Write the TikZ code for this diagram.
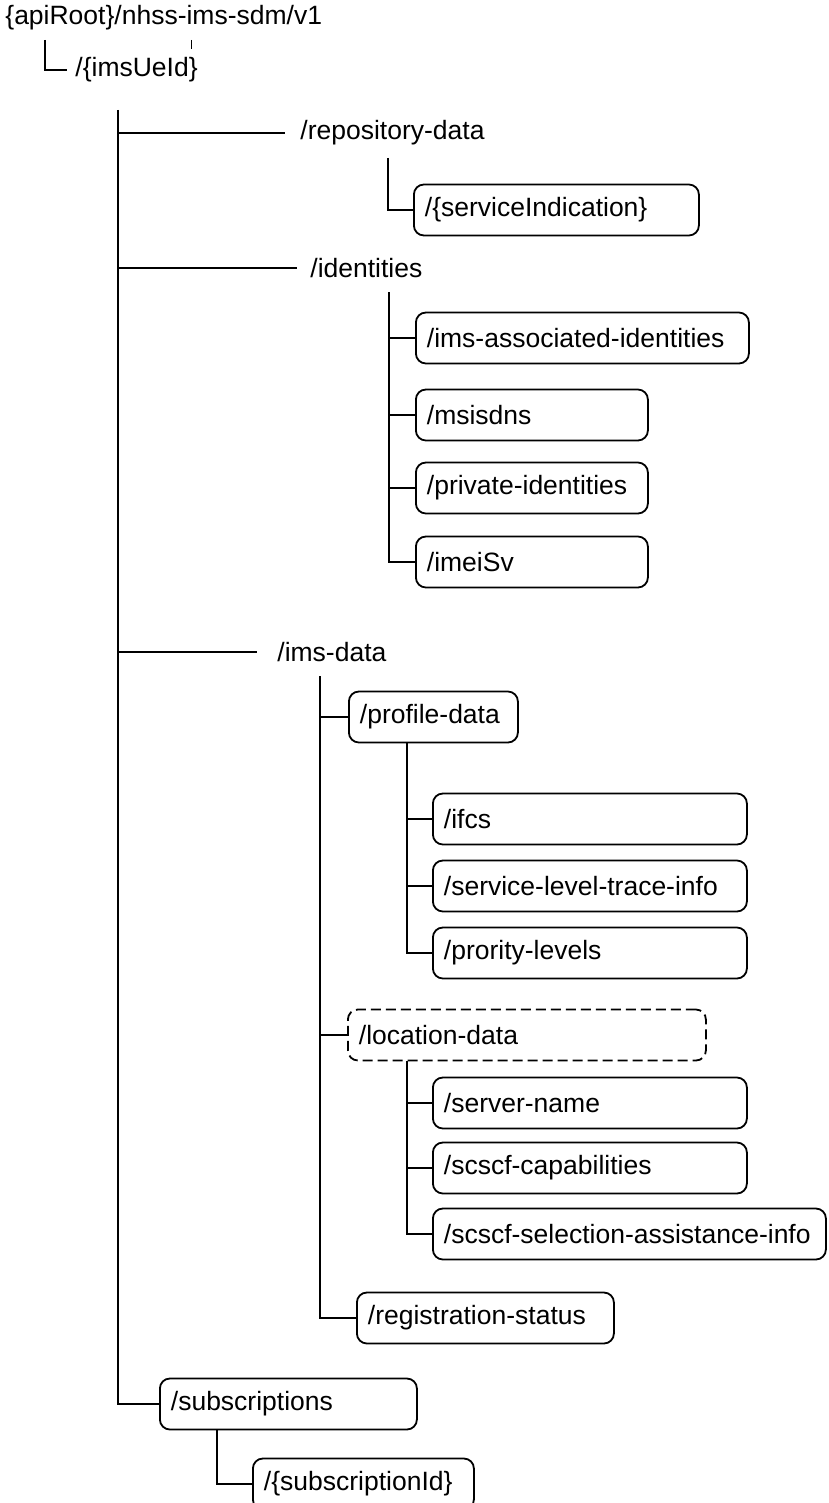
\documentclass[tikz,border=0pt]{standalone}
\usepackage{fontspec}
\setmainfont{Liberation Sans}
\hyphenpenalty=10000
\exhyphenpenalty=10000
\begin{document}
\begin{tikzpicture}[x=0.5pt,y=-0.5pt,
  every node/.style={font=\fontsize{13.25}{16}\selectfont},
  lbl/.style={inner sep=0pt, anchor=west},
  box/.style={draw, line width=0.9pt, rounded corners=5pt, minimum height=25.5pt,
    inner xsep=5.5pt, inner ysep=0pt, text width=#1, align=left, anchor=west},
  dbox/.style={box=#1, dash pattern=on 5pt off 2.5pt},
  conn/.style={line width=0.9pt}
]
\useasboundingbox (0,0) rectangle (829,1503);
\clip (0,0) rectangle (829,1503);

% root
\node[lbl] (root) at (5,18) {\{apiRoot\}/nhss-ims-sdm/v1};
\coordinate (tickA) at (191,40);
\coordinate (tickB) at (191,49);
\draw[line width=0.5pt] (tickA) -- (tickB);

\node[lbl] (ims) at (75,70) {/\{imsUeId\}};
\coordinate (c0) at (45,40);
\draw[conn] (c0) |- ([xshift=-4pt]ims.west);

% main trunk
\coordinate (m0) at (118,110);

\node[lbl] (repo) at (300,133) {/repository-data};
\node[lbl] (ident) at (310,268) {/identities};
\node[lbl] (imsdata) at (277,652) {/ims-data};
\node[box=117.5pt] (subs) at (159,1404) {/subscriptions};

\draw[conn] (m0) |- (subs.west);
\draw[conn] (m0 |- repo.west) -- ([xshift=-7.5pt]repo.west);
\draw[conn] (m0 |- ident.west) -- ([xshift=-6.5pt]ident.west);
\draw[conn] (m0 |- imsdata.west) -- ([xshift=-10pt]imsdata.west);

% repository-data
\node[box=131.5pt] (svc) at (413,210) {/\{serviceIndication\}};
\coordinate (r0) at (388,158);
\draw[conn] (r0) |- (svc.west);

% identities
\node[box=155.5pt] (assoc) at (415,338) {/ims-associated-identities};
\node[box=105pt] (msisdn) at (415,415) {/msisdns};
\node[box=105pt] (priv) at (415,488) {/private-identities};
\node[box=105pt] (imei) at (415,562) {/imeiSv};
\coordinate (i0) at (389,292);
\draw[conn] (i0) |- (imei.west);
\draw[conn] (i0 |- assoc.west) -- (assoc.west);
\draw[conn] (i0 |- msisdn.west) -- (msisdn.west);
\draw[conn] (i0 |- priv.west) -- (priv.west);

% ims-data
\node[box=73.5pt] (prof) at (348,717) {/profile-data};
\node[dbox=168pt] (loc) at (347,1035) {/location-data};
\node[box=117.5pt] (reg) at (356,1318) {/registration-status};
\coordinate (d0) at (320,676);
\draw[conn] (d0) |- (reg.west);
\draw[conn] (d0 |- prof.west) -- (prof.west);
\draw[conn] (d0 |- loc.west) -- (loc.west);

% profile-data children
\node[box=146pt] (ifcs) at (432,819) {/ifcs};
\node[box=146pt] (slti) at (432,886) {/service-level-trace-info};
\node[box=146pt] (prio) at (432,953) {/prority-levels};
\coordinate (p0) at (407,743);
\draw[conn] (p0) |- (prio.west);
\draw[conn] (p0 |- ifcs.west) -- (ifcs.west);
\draw[conn] (p0 |- slti.west) -- (slti.west);

% location-data children
\node[box=146pt] (srv) at (432,1103) {/server-name};
\node[box=146pt] (cap) at (432,1168) {/scscf-capabilities};
\node[box=185.5pt] (sel) at (432,1234) {/scscf-selection-assistance-info};
\coordinate (l0) at (407,1061);
\draw[conn] (l0) |- (sel.west);
\draw[conn] (l0 |- srv.west) -- (srv.west);
\draw[conn] (l0 |- cap.west) -- (cap.west);

% subscriptions child
\node[box=99.5pt] (subid) at (252,1484) {/\{subscriptionId\}};
\coordinate (s0) at (217,1430);
\draw[conn] (s0) |- (subid.west);
\end{tikzpicture}
\end{document}
